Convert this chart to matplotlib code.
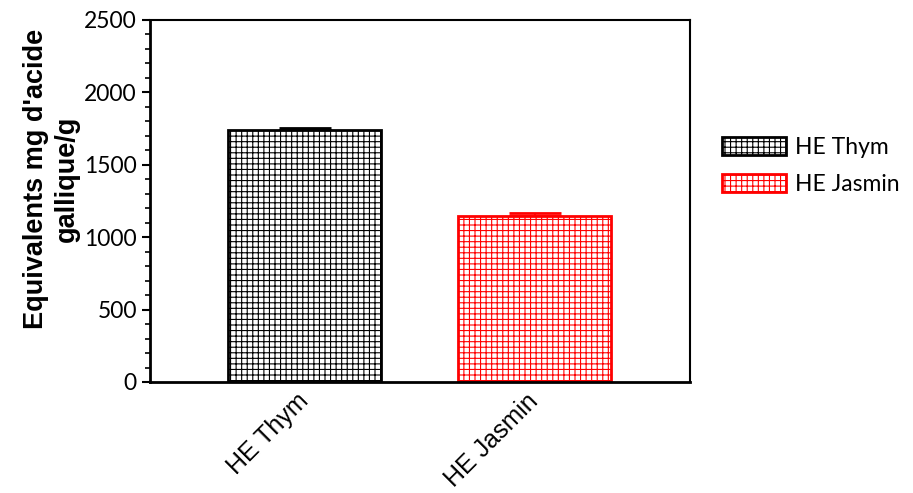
import numpy as np
import matplotlib
matplotlib.use('Agg')
import matplotlib.pyplot as plt
from matplotlib.ticker import MultipleLocator

# data
categories = ['HE Thym', 'HE Jasmin']
values = [1742, 1146]
errors = [14, 22]
colors = ['black', 'red']

plt.rcParams['hatch.linewidth'] = 0.8

fig = plt.figure(figsize=(9.13, 4.93), dpi=100)
ax = fig.add_axes([150 / 913, 1 - 382 / 493, 540 / 913, 362 / 493])

x = np.arange(len(categories))
for i in range(len(categories)):
    ax.bar(x[i], values[i], width=0.665, facecolor='white', edgecolor=colors[i],
           linewidth=2, hatch='+++', label=categories[i], zorder=2)
    ax.errorbar(x[i], values[i], yerr=[[0], [errors[i]]], fmt='none', ecolor=colors[i],
                elinewidth=1.5, capsize=19, capthick=2, zorder=1)

ax.set_xlim(-0.672, 1.676)
ax.set_ylim(0, 2500)
ax.yaxis.set_major_locator(MultipleLocator(500))
ax.yaxis.set_minor_locator(MultipleLocator(100))
ax.tick_params(axis='y', which='major', length=6, width=1.5, labelsize=16.5)
ax.tick_params(axis='y', which='minor', length=3.5, width=1.2)
ax.tick_params(axis='x', length=0, pad=11)
for lab in ax.get_yticklabels():
    lab.set_family('Lato')
ax.set_xticks(x)
ax.set_xticklabels(categories, rotation=45, ha='right', va='center', rotation_mode='anchor',
                   fontsize=18, family='Liberation Sans')
for side in ['left', 'bottom']:
    ax.spines[side].set_linewidth(2)
for side in ['top', 'right']:
    ax.spines[side].set_linewidth(1.5)

ax.set_ylabel("Equivalents mg d'acide\ngallique/g", fontsize=19.5, fontweight='bold',
              family='Liberation Sans', linespacing=1.25)
ax.yaxis.set_label_coords(-0.13, 0.56)

ax.legend(loc='center left', bbox_to_anchor=(722 / 913, 1 - 166 / 493),
          bbox_transform=fig.transFigure, frameon=False, borderaxespad=0, borderpad=0,
          prop={'family': 'Lato', 'size': 16.5}, handlelength=2.8, handleheight=0.85,
          labelspacing=0.7, handletextpad=0.4)

fig.savefig('out.png', dpi=100)
